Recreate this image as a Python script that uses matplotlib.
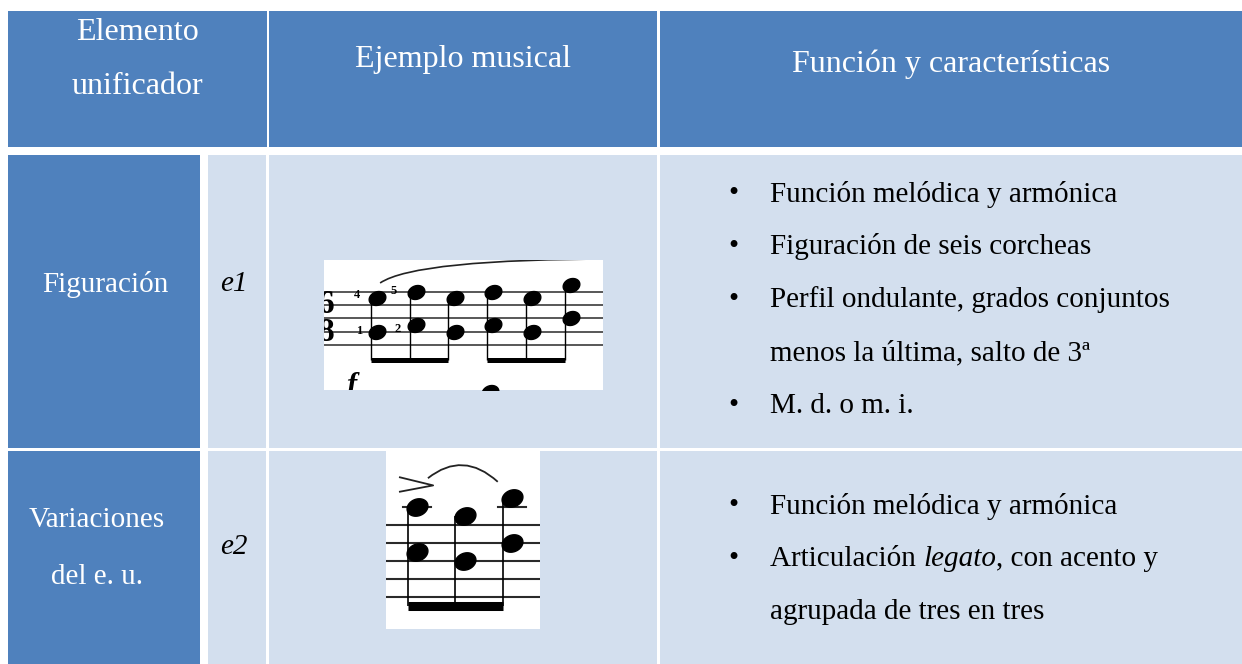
import matplotlib
matplotlib.use("Agg")
import matplotlib.pyplot as plt
from matplotlib.patches import Rectangle, PathPatch
from matplotlib.path import Path
from matplotlib.markers import MarkerStyle
import numpy as np

# --- contenido de la tabla ---
header_lines = [["Elemento", "unificador"], ["Ejemplo musical"], ["Función y características"]]
row_labels = [["Figuración"], ["Variaciones", "del e. u."]]
row_codes = ["e1", "e2"]
# cada viñeta es una lista de líneas; _texto_ = cursiva
row_bullets = [
    [["Función melódica y armónica"],
     ["Figuración de seis corcheas"],
     ["Perfil ondulante, grados conjuntos", "menos la última, salto de 3ª"],
     ["M. d. o m. i."]],
    [["Función melódica y armónica"],
     ["Articulación _legato_, con acento y", "agrupada de tres en tres"]],
]

# --- ejemplos musicales (posición en el pentagrama: 0 = línea inferior, paso = media línea) ---
e1_upper = [7, 8, 7, 8, 7, 9]
e1_lower = [2, 3, 2, 3, 2, 4]
e1_beams = [(0, 2), (3, 5)]
e1_fingers = [("4", -0.52, 7.5), ("1", -0.46, 2.1), ("5", 0.44, 8.1), ("2", 0.52, 2.4)]

e2_upper = [10, 9, 11]
e2_lower = [5, 4, 6]
e2_ledger = [0, 2]

W, H = 1242, 664
BLUE = "#4F81BD"
LIGHT = "#D3DFEE"
SERIF = "Liberation Serif"
FS_HEAD = 23
FS_BODY = 21

fig = plt.figure(figsize=(W / 100, H / 100), dpi=100)
ax = fig.add_axes([0, 0, 1, 1])
ax.set_xlim(0, W)
ax.set_ylim(H, 0)
ax.axis("off")


def cell(x0, y0, x1, y1, color):
    ax.add_patch(Rectangle((x0, y0), x1 - x0, y1 - y0, color=color, lw=0))


# cabecera
cell(8, 11, 267, 147, BLUE)
cell(269, 11, 657, 147, BLUE)
cell(660, 11, W, 147, BLUE)
# filas
rows_y = [(155, 448), (451, H)]
for y0, y1 in rows_y:
    cell(8, y0, 200, y1, BLUE)
    cell(208, y0, 266, y1, LIGHT)
    cell(269, y0, 657, y1, LIGHT)
    cell(660, y0, W, y1, LIGHT)

# textos de cabecera
head_pos = [(137, [33, 86]), (463, [59]), (951, [64])]
for lines, (cx, ys) in zip(header_lines, head_pos):
    for txt, y in zip(lines, ys):
        ax.text(cx, y, txt, color="white", fontsize=FS_HEAD, family=SERIF,
                ha="center", va="center")

label_pos = [(105, [284]), (97, [520, 577])]
code_y = [284, 547]
for lines, (cx, ys), code, cy in zip(row_labels, label_pos, row_codes, code_y):
    for txt, y in zip(lines, ys):
        ax.text(cx, y, txt, color="white", fontsize=FS_BODY, family=SERIF,
                ha="center", va="center")
    ax.text(234, cy, code, color="black", fontsize=FS_BODY, family=SERIF,
            style="italic", ha="center", va="center")

renderer = fig.canvas.get_renderer()


def rich_line(x, y, s):
    # dibuja una línea alternando normal / cursiva
    parts = s.split("_")
    for i, p in enumerate(parts):
        if not p:
            continue
        t = ax.text(x, y, p, fontsize=FS_BODY, family=SERIF,
                    style="italic" if i % 2 else "normal", ha="left", va="center")
        bb = t.get_window_extent(renderer)
        x += bb.width


bullet_start = [194, 506]
line_gap = 53
for items, y in zip(row_bullets, bullet_start):
    for item in items:
        ax.text(733, y, "•", fontsize=FS_BODY, family=SERIF, ha="center", va="center")
        for line in item:
            rich_line(770, y, line)
            y += line_gap

# marcador de cabeza de nota (elipse inclinada)
t = np.linspace(0, 2 * np.pi, 60)
ang = np.deg2rad(22)
ex, ey = np.cos(t), 0.78 * np.sin(t)
head = Path(np.c_[ex * np.cos(ang) - ey * np.sin(ang), ex * np.sin(ang) + ey * np.cos(ang)], closed=True)
head_marker = MarkerStyle(head)


def staff_axes(px0, py0, px1, py1, x0px, dxpx, y0px, dypx):
    a = fig.add_axes([px0 / W, 1 - py1 / H, (px1 - px0) / W, (py1 - py0) / H])
    a.set_xlim((px0 - x0px) / dxpx, (px1 - x0px) / dxpx)
    a.set_ylim((y0px - py1) / dypx, (y0px - py0) / dypx)
    a.set_facecolor("white")
    a.set_xticks([])
    a.set_yticks([])
    for s in a.spines.values():
        s.set_visible(False)
    return a


# ---- e1 ----
a1 = staff_axes(324, 260, 603, 390, 377, 38.8, 345, 6.67)
for s in [0, 2, 4, 6, 8]:
    a1.axhline(s, color="#2a2a2a", lw=1.1)
xs1 = np.arange(len(e1_upper))
a1.plot(xs1, e1_upper, ls="none", marker=head_marker, ms=12, color="black")
a1.plot(xs1, e1_lower, ls="none", marker=head_marker, ms=12, color="black")
stem_dx1 = 0.16
beam_y1 = -2.3
a1.vlines(xs1 - stem_dx1, beam_y1, e1_upper, color="black", lw=1.0)
for i0, i1 in e1_beams:
    a1.plot([i0 - stem_dx1, i1 - stem_dx1], [beam_y1, beam_y1], color="black", lw=3.6,
            solid_capstyle="butt")
for txt, fx, fy in e1_fingers:
    a1.text(fx, fy, txt, fontsize=9, family=SERIF, weight="bold", ha="center", va="center")
for txt, ty in [("6", 6.1), ("8", 1.9)]:
    a1.text(-1.3, ty, txt, fontsize=24, family=SERIF, weight="bold", ha="center",
            va="center", clip_on=True)
a1.text(-0.64, -6.2, "f", fontsize=22, family=SERIF, weight="bold", style="italic",
        ha="center", va="center", clip_on=True)
a1.plot([2.9], [-7.1], ls="none", marker=head_marker, ms=12, color="black")
slur1 = Path([(0.08, 9.3), (1.0, 12.9), (6.2, 12.9)], [Path.MOVETO, Path.CURVE3, Path.CURVE3])
a1.add_patch(PathPatch(slur1, fc="none", ec="#222", lw=1.2))

# ---- e2 ----
a2 = staff_axes(386, 450, 540, 629, 417, 47.5, 597, 9.0)
for s in [0, 2, 4, 6, 8]:
    a2.axhline(s, color="#2a2a2a", lw=1.5)
xs2 = np.arange(len(e2_upper))
for i in e2_ledger:
    a2.plot([i - 0.3, i + 0.3], [10, 10], color="#2a2a2a", lw=1.5)
a2.plot(xs2, e2_upper, ls="none", marker=head_marker, ms=15, color="black")
a2.plot(xs2, e2_lower, ls="none", marker=head_marker, ms=15, color="black")
stem_dx2 = 0.2
beam_y2 = -1.05
a2.vlines(xs2 - stem_dx2, beam_y2, e2_upper, color="black", lw=1.2)
a2.plot([-stem_dx2, xs2[-1] - stem_dx2], [beam_y2, beam_y2], color="black", lw=6.5,
        solid_capstyle="butt")
a2.plot([-0.36, 0.34, -0.36], [13.3, 12.4, 11.7], color="#222", lw=1.3)
slur2 = Path([(0.23, 13.2), (0.97, 16.3), (1.7, 12.8)], [Path.MOVETO, Path.CURVE3, Path.CURVE3])
a2.add_patch(PathPatch(slur2, fc="none", ec="#222", lw=1.3))

fig.savefig("out.png", dpi=100)
